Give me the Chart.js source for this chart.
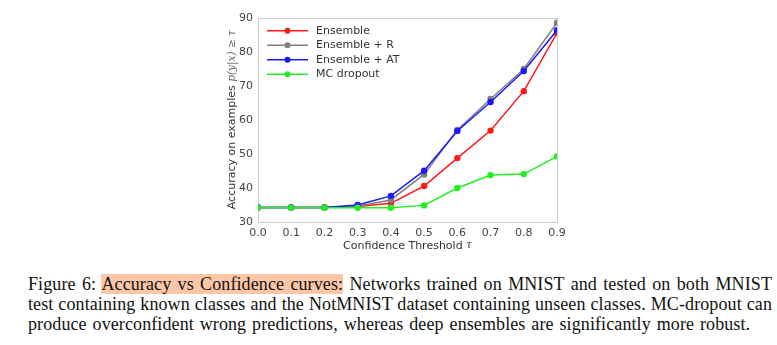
<!DOCTYPE html>
<html>
<head>
<meta charset="utf-8">
<script src="https://cdn.jsdelivr.net/npm/chart.js@4.4.1/dist/chart.umd.min.js"></script>
<style>
  html, body { margin: 0; padding: 0; background: #fff; }
  body { width: 777px; height: 345px; position: relative; overflow: hidden; }
  #wrap { position: absolute; left: 0; top: 0; width: 777px; height: 262px; }
  #caption {
    position: absolute; left: 28px; top: 274px; width: 744px;
    font-family: "Liberation Serif", "Times New Roman", serif;
    font-size: 18px; line-height: 20px; color: #111;
    letter-spacing: 0.1px;
  }
  #caption div { white-space: nowrap; text-align: justify; text-align-last: justify; word-spacing: -1.5px; }
  #caption div.last { text-align: left; text-align-last: left; word-spacing: 1.3px; }
  #caption .hl { background: #fdc6a6; }
</style>
</head>
<body>
<div id="wrap"><canvas id="c" width="777" height="262"></canvas></div>
<div id="caption">
  <div>Figure 6: <span class="hl">Accuracy vs Confidence curves:</span> Networks trained on MNIST and tested on both MNIST</div>
  <div>test containing known classes and the NotMNIST dataset containing unseen classes. MC-dropout can</div>
  <div class="last">produce overconfident wrong predictions, whereas deep ensembles are significantly more robust.</div>
</div>
<script>
// Confidence thresholds (x) and accuracy (%) for each method
const thresholds = [0.0, 0.1, 0.2, 0.3, 0.4, 0.5, 0.6, 0.7, 0.8, 0.9];
const ensemble   = [34.2, 34.2, 34.2, 34.5, 35.4, 40.5, 48.7, 56.8, 68.4, 85.5];
const ensembleR  = [34.2, 34.2, 34.2, 34.6, 36.4, 43.9, 57.0, 66.1, 74.9, 88.5];
const ensembleAT = [34.2, 34.2, 34.2, 34.9, 37.6, 45.0, 56.7, 65.2, 74.3, 86.3];
const mcDropout  = [34.1, 34.1, 34.1, 34.1, 34.1, 34.8, 39.9, 43.7, 44.0, 49.2];
const seriesNames = ["Ensemble", "Ensemble + R", "Ensemble + AT", "MC dropout"];
const seriesColors = ["#ff1a1a", "#808080", "#1a1aff", "#22ee22"];
const yTicks = [30, 40, 50, 60, 70, 80, 90];

const seriesValues = [ensemble, ensembleR, ensembleAT, mcDropout];
const datasets = seriesValues.map((vals, i) => ({
  label: seriesNames[i],
  data: vals.map((v, k) => ({ x: thresholds[k], y: v })),
  borderColor: seriesColors[i],
  backgroundColor: seriesColors[i],
  borderWidth: 1.5,
  pointRadius: 3.2,
  pointHoverRadius: 3.2,
  pointBorderWidth: 0,
  tension: 0,
  order: seriesValues.length - 1 - i
}));

const TICK_FONT = { family: "'DejaVu Sans', sans-serif", size: 11 };
const TICK_COLOR = "#444";

// Light frame around the plotting area
const framePlugin = {
  id: 'frame',
  beforeDatasetsDraw(chart) {
    const { ctx, chartArea: a } = chart;
    ctx.save();
    ctx.strokeStyle = '#cfcfcf';
    ctx.lineWidth = 1;
    ctx.strokeRect(Math.round(a.left) + 0.5, Math.round(a.top) + 0.5,
                   Math.round(a.right - a.left), Math.round(a.bottom - a.top));
    ctx.restore();
  }
};

// Axis titles with the math symbols set in italic serif
function drawMixed(ctx, parts, x, y) {
  let total = 0;
  parts.forEach(p => { ctx.font = p.font; p.w = ctx.measureText(p.text).width; total += p.w; });
  let cx = x - total / 2;
  parts.forEach(p => {
    ctx.font = p.font; ctx.fillStyle = p.color;
    ctx.fillText(p.text, cx, y);
    cx += p.w;
  });
}
const titlesPlugin = {
  id: 'titles',
  afterDraw(chart) {
    const { ctx, chartArea: a } = chart;
    ctx.save();
    ctx.textBaseline = 'middle';
    ctx.textAlign = 'left';
    const sans = "11px 'DejaVu Sans', sans-serif";
    const math = "italic 10.5px 'DejaVu Serif', serif";
    drawMixed(ctx, [
      { text: 'Confidence Threshold ', font: sans, color: '#333' },
      { text: 'τ', font: math, color: '#333' }
    ], (a.left + a.right) / 2, a.bottom + 24);
    ctx.translate(a.left - 26, (a.top + a.bottom) / 2);
    ctx.rotate(-Math.PI / 2);
    drawMixed(ctx, [
      { text: 'Accuracy on examples ', font: sans, color: '#333' },
      { text: 'p(y|x) ≥ τ', font: math, color: '#666' }
    ], 0, 0);
    ctx.restore();
  }
};

// Legend in the upper-left corner of the plot: line with a dot, then the name
const legendPlugin = {
  id: 'innerLegend',
  afterDatasetsDraw(chart) {
    const { ctx, chartArea: a } = chart;
    ctx.save();
    chart.data.datasets.forEach((ds, i) => {
      const y = a.top + 13 + i * 14.5;
      const x0 = a.left + 9, x1 = a.left + 50;
      ctx.strokeStyle = ds.borderColor; ctx.lineWidth = 1.5;
      ctx.beginPath(); ctx.moveTo(x0, y); ctx.lineTo(x1, y); ctx.stroke();
      ctx.fillStyle = ds.borderColor;
      ctx.beginPath(); ctx.arc((x0 + x1) / 2, y, 3, 0, Math.PI * 2); ctx.fill();
      ctx.fillStyle = '#333';
      ctx.font = "11px 'DejaVu Sans', sans-serif";
      ctx.textBaseline = 'middle';
      ctx.fillText(ds.label, a.left + 58, y);
    });
    ctx.restore();
  }
};

new Chart(document.getElementById('c'), {
  type: 'line',
  data: { datasets },
  plugins: [framePlugin, legendPlugin, titlesPlugin],
  options: {
    responsive: false,
    animation: false,
    layout: { padding: { left: 198, right: 220, top: 17.7, bottom: 0 } },
    plugins: { legend: { display: false }, tooltip: { enabled: false } },
    scales: {
      x: {
        type: 'linear', min: 0, max: 0.9,
        grid: { display: false, drawTicks: false },
        border: { display: false },
        afterBuildTicks(s) { s.ticks = thresholds.map(v => ({ value: v })); },
        afterFit(s) { s.height = 40.3; },
        ticks: {
          font: TICK_FONT, color: TICK_COLOR, padding: 5, maxRotation: 0,
          callback: v => Number(v).toFixed(1)
        }
      },
      y: {
        min: 30, max: 90,
        grid: { display: false, drawTicks: false },
        border: { display: false },
        afterBuildTicks(s) { s.ticks = yTicks.map(v => ({ value: v })); },
        afterFit(s) { s.width = 60; },
        ticks: { font: TICK_FONT, color: TICK_COLOR, padding: 5 }
      }
    }
  }
});
</script>
</body>
</html>
